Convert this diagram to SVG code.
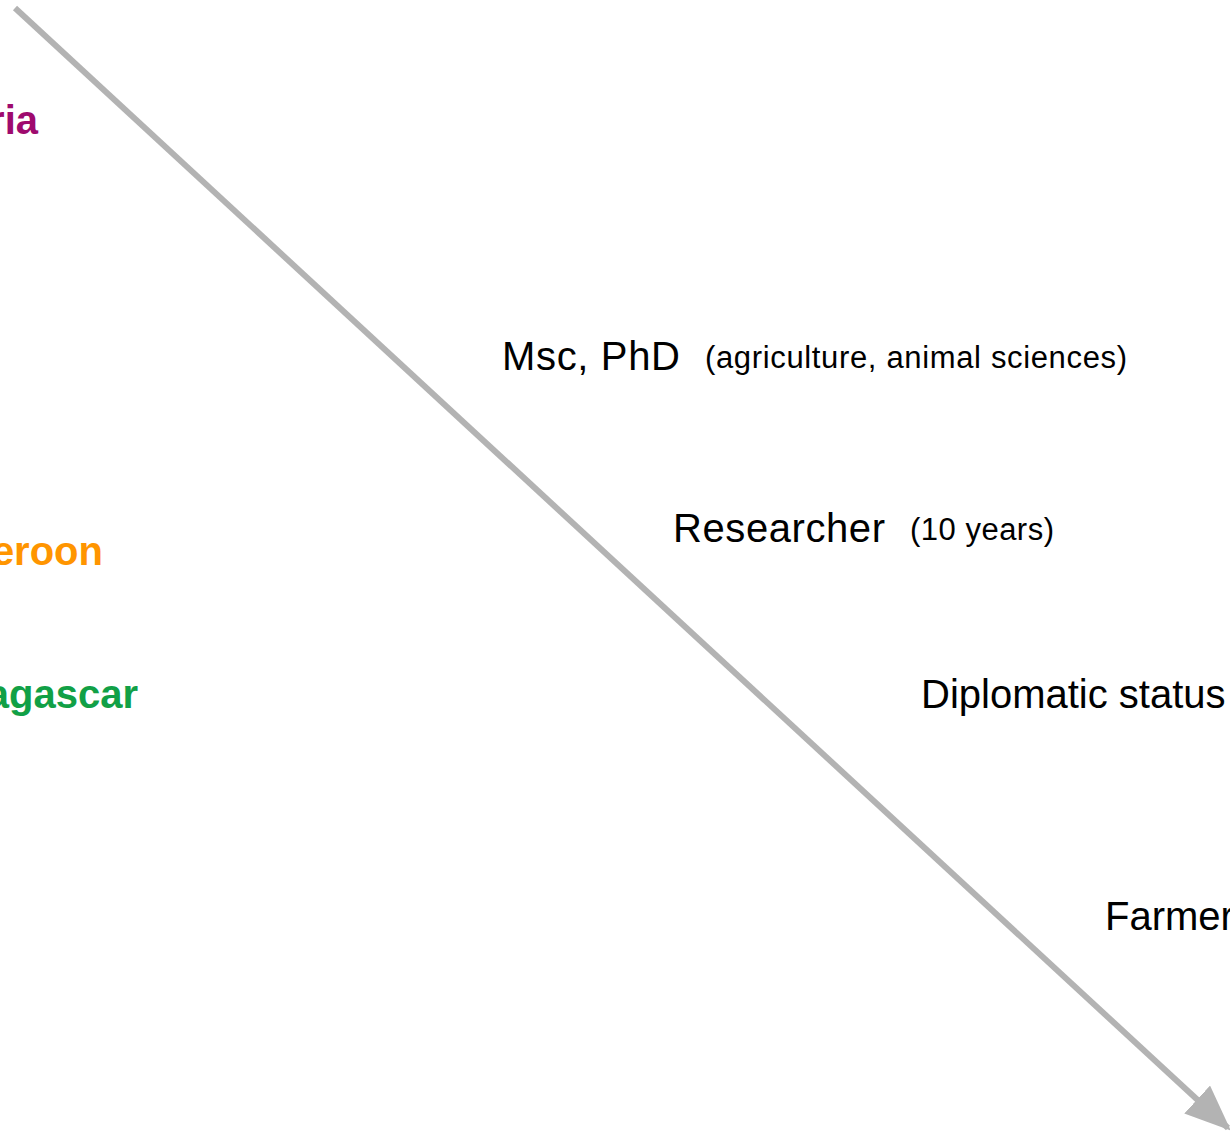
<svg xmlns="http://www.w3.org/2000/svg" width="1230" height="1132" viewBox="0 0 1230 1132">
<style>
.big{font-family:"Liberation Sans",Arial,sans-serif;font-size:40px;fill:#000}
.small{font-family:"Liberation Sans",Arial,sans-serif;font-size:31px;fill:#000}
.ctry{font-family:"Liberation Sans",Arial,sans-serif;font-size:40px;font-weight:bold}
</style>
<defs>
<marker id="ah" markerUnits="userSpaceOnUse" markerWidth="46" markerHeight="38" refX="42" refY="19" orient="auto">
<path d="M0,0 L46,19 L0,38 Z" fill="#b3b3b3"/>
</marker>
</defs>
<rect width="1230" height="1132" fill="#fff"/>
<g id="connectors">
<line x1="15" y1="8" x2="1228" y2="1128" stroke="#b3b3b3" stroke-width="6" marker-end="url(#ah)"/>
</g>
<g id="country-ria"><text class="ctry" x="38" y="134" text-anchor="end" fill="#9e0a6e">ria</text></g>
<g id="country-eroon"><text class="ctry" x="103" y="565" text-anchor="end" fill="#ff9500">eroon</text></g>
<g id="country-agascar"><text class="ctry" x="138" y="708" text-anchor="end" fill="#11a046">agascar</text></g>
<g id="msc"><text class="big" x="502" y="370" textLength="178">Msc, PhD</text><text class="small" x="705" y="368" textLength="422">(agriculture, animal sciences)</text></g>
<g id="researcher"><text class="big" x="673" y="542" textLength="212">Researcher</text><text class="small" x="910" y="540" textLength="144">(10 years)</text></g>
<g id="diplomatic"><text class="big" x="921" y="708">Diplomatic status</text></g>
<g id="farmer"><text class="big" x="1105" y="930">Farmer</text></g>
</svg>
